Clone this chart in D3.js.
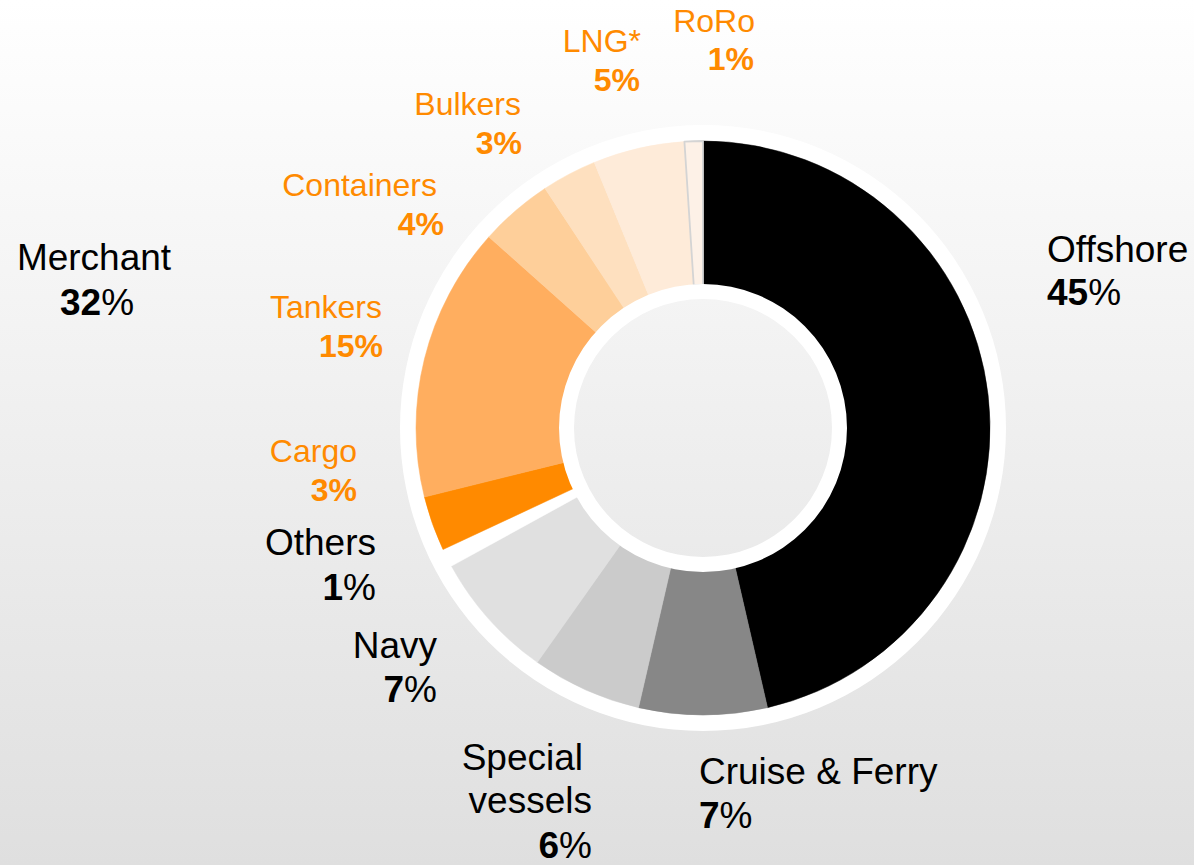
<!DOCTYPE html>
<html>
<head>
<meta charset="utf-8">
<script src="https://cdn.jsdelivr.net/npm/d3@7"></script>
<style>
  html, body { margin: 0; padding: 0; background: #fff; }
  svg { display: block; font-family: "Liberation Sans", Arial, sans-serif; }
</style>
</head>
<body>
<svg id="chart" width="1194" height="865"></svg>
<script>
// Fleet segments, clockwise from 12 o'clock
const categories = ["Offshore", "Cruise & Ferry", "Special vessels", "Navy", "Others",
                    "Cargo", "Tankers", "Containers", "Bulkers", "LNG*", "RoRo"];
const shares = [45, 7, 6, 7, 1, 3, 15, 4, 3, 5, 1];
const merchantTypes = ["Cargo", "Tankers", "Containers", "Bulkers", "LNG*", "RoRo"];

// Segment group totals
const groupNames = ["Merchant"];
const groupShares = [32];

const sliceColors = {
  "Offshore": "#000000",
  "Cruise & Ferry": "#878787",
  "Special vessels": "#cbcbcb",
  "Navy": "#e0e0e0",
  "Others": "#ffffff",
  "Cargo": "#ff8a00",
  "Tankers": "#ffae5f",
  "Containers": "#fecf9a",
  "Bulkers": "#fee0bf",
  "LNG*": "#feebd9",
  "RoRo": "#fdf1e7"
};

const W = 1194, H = 865;
const cx = 703, cy = 428;
const rInner = 143, rOuter = 287;
const ringOuter = 303, holeRing = 129;
const orange = "#ff8a00";

const svg = d3.select("#chart");
const defs = svg.append("defs");
const bg = defs.append("linearGradient").attr("id", "bgGrad")
  .attr("x1", 0).attr("y1", 0).attr("x2", 0).attr("y2", 1);
bg.append("stop").attr("offset", "0%").attr("stop-color", "#ffffff");
bg.append("stop").attr("offset", "100%").attr("stop-color", "#dfdfdf");

svg.append("rect").attr("width", W).attr("height", H).attr("fill", "url(#bgGrad)");

const g = svg.append("g").attr("transform", `translate(${cx},${cy})`);

// White outer ring and white inner ring around the hole
const ring = d3.arc();
g.append("path")
  .attr("d", ring({ innerRadius: rOuter - 1, outerRadius: ringOuter, startAngle: 0, endAngle: 2 * Math.PI }))
  .attr("fill", "#ffffff");

const pie = d3.pie().value(d => d.value).sort(null);
const arcs = pie(categories.map((c, i) => ({ name: c, value: shares[i] })));
const arc = d3.arc().innerRadius(rInner).outerRadius(rOuter);

g.selectAll("path.slice")
  .data(arcs)
  .join("path")
  .attr("class", "slice")
  .attr("d", arc)
  .attr("fill", d => sliceColors[d.data.name])
  .attr("stroke", d => d.data.name === "RoRo" ? "#d4d4d4" : sliceColors[d.data.name])
  .attr("stroke-width", d => d.data.name === "RoRo" ? 1.8 : 0.5)
  .attr("stroke-linejoin", "round");

g.append("path")
  .attr("d", ring({ innerRadius: holeRing, outerRadius: rInner + 1, startAngle: 0, endAngle: 2 * Math.PI }))
  .attr("fill", "#ffffff");

// Label placement: anchor and baseline of each text line
const labelLayout = {
  "Offshore":        { anchor: "start", x: 1047, lines: [["Offshore", 262]], valueAt: [1047, 305] },
  "Cruise & Ferry":  { anchor: "start", x: 699,  lines: [["Cruise & Ferry", 784]], valueAt: [699, 828] },
  "Special vessels": { anchor: "end",   x: 592,  lines: [["Special", 770, 583], ["vessels", 813]], valueAt: [592, 858] },
  "Navy":            { anchor: "end",   x: 437,  lines: [["Navy", 658]], valueAt: [437, 702] },
  "Others":          { anchor: "end",   x: 376,  lines: [["Others", 555]], valueAt: [376, 600] },
  "Cargo":           { anchor: "end",   x: 357,  lines: [["Cargo", 462]], valueAt: [357, 501] },
  "Tankers":         { anchor: "end",   x: 382,  lines: [["Tankers", 318]], valueAt: [383, 357] },
  "Containers":      { anchor: "end",   x: 437,  lines: [["Containers", 196]], valueAt: [444, 235] },
  "Bulkers":         { anchor: "end",   x: 521,  lines: [["Bulkers", 115]], valueAt: [522, 154] },
  "LNG*":            { anchor: "end",   x: 641,  lines: [["LNG*", 52]], valueAt: [640, 91] },
  "RoRo":            { anchor: "end",   x: 755,  lines: [["RoRo", 32]], valueAt: [754, 70] }
};

const labels = svg.append("g").attr("class", "labels");

function drawLabel(name, value, layout, isMerchant) {
  const color = isMerchant ? orange : "#000000";
  const size = isMerchant ? 32 : 37;
  layout.lines.forEach(([txt, y, xOverride]) => {
    labels.append("text")
      .attr("x", xOverride !== undefined ? xOverride : layout.x)
      .attr("y", y)
      .attr("text-anchor", layout.anchor)
      .attr("fill", color)
      .attr("font-size", size)
      .text(txt);
  });
  const t = labels.append("text")
    .attr("x", layout.valueAt[0])
    .attr("y", layout.valueAt[1])
    .attr("text-anchor", layout.anchor)
    .attr("fill", color)
    .attr("font-size", size);
  t.append("tspan").attr("font-weight", "bold").text(value);
  t.append("tspan").attr("font-weight", isMerchant ? "bold" : "normal").text("%");
}

categories.forEach((c, i) => {
  drawLabel(c, shares[i], labelLayout[c], merchantTypes.includes(c));
});

// Segment total for merchant shipping
const groupLayout = { "Merchant": { anchor: "middle", x: 94, lines: [["Merchant", 270]], valueAt: [97, 315] } };
groupNames.forEach((n, i) => drawLabel(n, groupShares[i], groupLayout[n], false));
</script>
</body>
</html>
